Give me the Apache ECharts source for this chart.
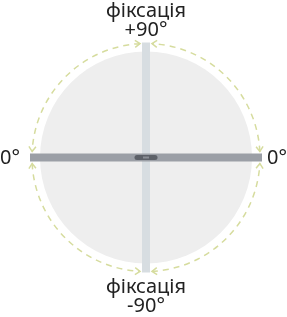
<!DOCTYPE html>
<html>
<head>
<meta charset="utf-8">
<script src="https://cdn.jsdelivr.net/npm/echarts@6/dist/echarts.min.js"></script>
<style>
  html, body { margin: 0; padding: 0; background: #fff; }
  #chart { width: 287px; height: 317px; }
</style>
</head>
<body>
<div id="chart"></div>
<script>
// положення пристрою: горизонтальна і вертикальна планки
const hBar = [[-116, 0], [116, 0]];
const vBar = [[0, 115], [0, -115]];
const disc = [[0, 0, 106]];
// дуги з стрілками (градуси)
const arcRadius = 114;
const arcSpans = [[3, 87], [93, 177], [183, 267], [273, 357]];
const handle = [[-9, 0], [9, 0]];
const labels = ['фіксація\n+90°', 'фіксація\n-90°', '0°', '0°'];

const chart = echarts.init(document.getElementById('chart'));
const font = '"Noto Sans", sans-serif';

const option = {
    animation: false,
    grid: { left: 0, right: 0, top: 0, bottom: 0 },
    xAxis: { type: 'value', min: -146, max: 141, show: false },
    yAxis: { type: 'value', min: -159.5, max: 157.5, show: false },
    series: [
        {
            type: 'custom',
            z: 1,
            data: disc,
            renderItem: function(params, api) {
                const c = api.coord([api.value(0), api.value(1)]);
                const r = api.size([api.value(2), 0])[0];
                return {
                    type: 'circle',
                    shape: { cx: c[0], cy: c[1], r: r },
                    style: { fill: '#eeeeee' }
                };
            }
        },
        {
            type: 'custom',
            z: 2,
            data: arcSpans,
            renderItem: function(params, api) {
                const c = api.coord([0, 0]);
                const r = api.size([arcRadius, 0])[0];
                const s = api.value(0) * Math.PI / 180;
                const e = api.value(1) * Math.PI / 180;
                const color = '#d6dc9e';
                const arrow = function(t, sign) {
                    const px = c[0] + r * Math.cos(t);
                    const py = c[1] - r * Math.sin(t);
                    // напрямок стрілки вздовж дуги
                    const dx = -Math.sin(t) * sign;
                    const dy = -Math.cos(t) * sign;
                    const nx = -dy, ny = dx;
                    return {
                        type: 'polyline',
                        shape: {
                            points: [
                                [px - 5 * dx + 3.5 * nx, py - 5 * dy + 3.5 * ny],
                                [px, py],
                                [px - 5 * dx - 3.5 * nx, py - 5 * dy - 3.5 * ny]
                            ]
                        },
                        style: { stroke: color, lineWidth: 1.5, fill: null }
                    };
                };
                return {
                    type: 'group',
                    children: [
                        {
                            type: 'arc',
                            shape: { cx: c[0], cy: c[1], r: r, startAngle: -s, endAngle: -e, clockwise: false },
                            style: { stroke: color, lineWidth: 1.5, fill: null, lineDash: [6, 5] }
                        },
                        arrow(e, 1),
                        arrow(s, -1)
                    ]
                };
            }
        },
        {
            type: 'line',
            z: 3,
            data: vBar,
            symbol: 'none',
            lineStyle: { color: '#d7dde1', width: 8, cap: 'butt' }
        },
        {
            type: 'line',
            z: 4,
            data: hBar,
            symbol: 'none',
            lineStyle: { color: '#9b9fa6', width: 8, cap: 'butt' }
        },
        {
            // ручка в центрі
            type: 'line',
            z: 5,
            data: handle,
            symbol: 'none',
            lineStyle: { color: '#5d6168', width: 5, cap: 'round' }
        },
        {
            type: 'line',
            z: 6,
            data: [[-3, 0], [3, 0]],
            symbol: 'none',
            lineStyle: { color: '#8a8e95', width: 2, cap: 'butt' }
        }
    ],
    graphic: [
        {
            type: 'text', x: 146, y: 2,
            style: { text: labels[0], font: '20px ' + font, fill: '#222', align: 'center', verticalAlign: 'top', lineHeight: 19 }
        },
        {
            type: 'text', x: 146, y: 278,
            style: { text: labels[1], font: '20px ' + font, fill: '#222', align: 'center', verticalAlign: 'top', lineHeight: 19 }
        },
        {
            type: 'text', x: 0, y: 158,
            style: { text: labels[2], font: '20px ' + font, fill: '#222', align: 'left', verticalAlign: 'middle' }
        },
        {
            type: 'text', x: 287, y: 158,
            style: { text: labels[3], font: '20px ' + font, fill: '#222', align: 'right', verticalAlign: 'middle' }
        }
    ]
};
chart.setOption(option);
</script>
</body>
</html>
